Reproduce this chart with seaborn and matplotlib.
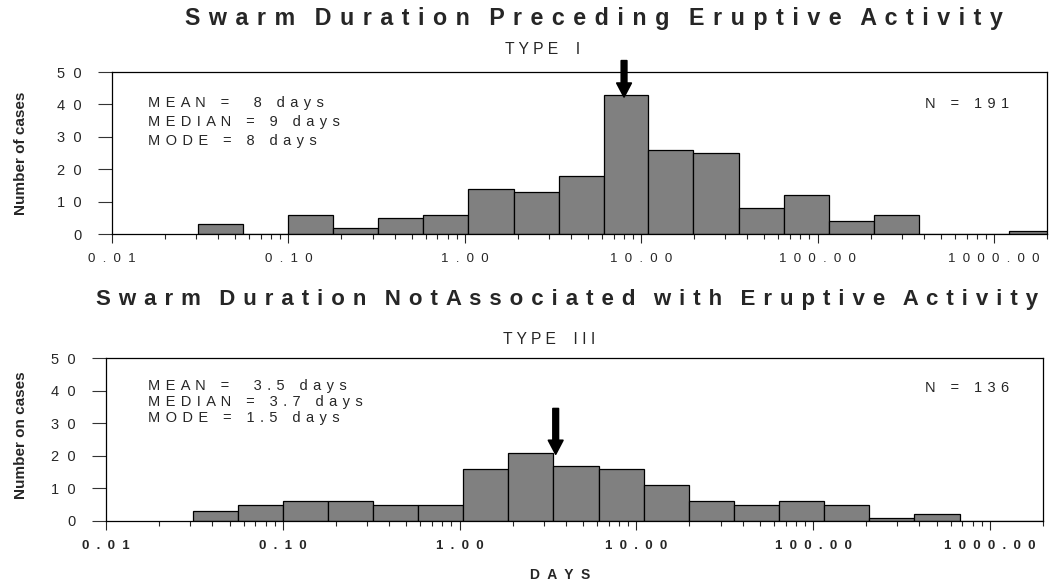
import numpy as np
import pandas as pd
import matplotlib
matplotlib.use("Agg")
import matplotlib.pyplot as plt
import seaborn as sns
from matplotlib.ticker import FixedLocator, FixedFormatter, LogLocator, NullFormatter

# ---------------- data ----------------
bin_edges = [0.0309, 0.0556, 0.1, 0.18, 0.324, 0.583, 1.05, 1.89, 3.40, 6.12,
             11.0, 19.8, 35.7, 64.3, 116.0, 208.0, 375.0, 675.0, 1215.0, 2187.0]
counts_type1 = [3, 0, 6, 2, 5, 6, 14, 13, 18, 43, 26, 25, 8, 12, 4, 6, 0, 0, 1]
counts_type3 = [3, 5, 6, 6, 5, 5, 16, 21, 17, 16, 11, 6, 5, 6, 5, 1, 2, 0, 0]

x_tick_values = [0.01, 0.1, 1, 10, 100, 1000]
x_tick_labels = ["0.01", "0.10", "1.00", "10.00", "100.00", "1000.00"]
y_tick_values = [0, 10, 20, 30, 40, 50]
y_tick_labels = ["0", "10", "20", "30", "40", "50"]

title_type1 = "Swarm Duration Preceding Eruptive Activity"
title_type3 = "Swarm Duration Not Associated with Eruptive Activity"
subtitle_type1 = "TYPE I"
subtitle_type3 = "TYPE III"
stats_type1 = ["MEAN =  8 days", "MEDIAN = 9 days", "MODE = 8 days"]
stats_type3 = ["MEAN =  3.5 days", "MEDIAN = 3.7 days", "MODE = 1.5 days"]
n_type1 = "N = 191"
n_type3 = "N = 136"
ylabel_type1 = "Number of cases"
ylabel_type3 = "Number on cases"
xlabel = "DAYS"

arrow_x = [8, 3.5]
arrow_tip = [42.3, 20.5]
arrow_tail = [53.5, 34.5]

# ---------------- style ----------------
sns.set_style("ticks")
plt.rcParams["font.family"] = ["Liberation Sans", "DejaVu Sans"]
plt.rcParams["axes.edgecolor"] = "black"
plt.rcParams["axes.linewidth"] = 0.9

W, H = 1049, 588
fig = plt.figure(figsize=(W / 100, H / 100), dpi=100)
fig.patch.set_facecolor("white")
renderer = fig.canvas.get_renderer()


def fx(x):
    return x / W


def fy(y):
    return 1 - y / H


def spaced(s, sep=" "):
    return sep.join(s)


def spaced_words(s, sep=" \u200a", word_sep="   ", tight=()):
    words = s.split(" ")
    out = sep.join(words[0])
    for i, w in enumerate(words[1:]):
        out += (sep if i + 1 in tight else word_sep) + sep.join(w)
    return out


def fitted_text(x_left, x_right, y, s, size, **kw):
    t = fig.text(fx(x_left), fy(y), s, ha="left", va="center", fontsize=size, **kw)
    w = t.get_window_extent(renderer).width
    t.set_fontsize(size * (x_right - x_left) / w)
    return t


ax1 = fig.add_axes([fx(112), fy(234), fx(1047 - 112), (234 - 72) / H])
ax2 = fig.add_axes([fx(106), fy(521), fx(1043 - 106), (521 - 358) / H])

edges = np.array(bin_edges)
centers = np.sqrt(edges[:-1] * edges[1:])
log_bins = list(np.log10(edges))

for ax, counts, bold in [(ax1, counts_type1, False), (ax2, counts_type3, True)]:
    df = pd.DataFrame({"days": centers, "cases": counts})
    sns.histplot(data=df, x="days", weights="cases", bins=log_bins,
                 log_scale=True, ax=ax, color="#808080", edgecolor="black",
                 linewidth=0.9, alpha=1.0)
    ax.set_xlim(0.01, 2000)
    ax.set_ylim(0, 50)
    ax.set_xlabel("")
    ax.set_ylabel("")
    ax.xaxis.set_major_locator(FixedLocator(x_tick_values))
    ax.xaxis.set_major_formatter(FixedFormatter([spaced(l, "  ") for l in x_tick_labels]))
    ax.xaxis.set_minor_locator(LogLocator(base=10, subs=np.arange(2, 10), numticks=30))
    ax.xaxis.set_minor_formatter(NullFormatter())
    ax.yaxis.set_major_locator(FixedLocator(y_tick_values))
    ax.yaxis.set_major_formatter(FixedFormatter([spaced(l, "  ") for l in y_tick_labels]))
    ax.tick_params(axis="y", length=10, width=0.8, pad=12, labelsize=10.5, color="#333333")
    ax.tick_params(axis="x", which="major", length=6.5, width=0.8, pad=7, labelsize=9.5)
    ax.tick_params(axis="x", which="minor", length=3.5, width=0.8)
    for sp in ax.spines.values():
        sp.set_visible(True)
        sp.set_color("black")
        sp.set_linewidth(0.9)
    if bold:
        for lab in ax.get_xticklabels():
            lab.set_fontweight("bold")

# arrows marking the mean
for ax, xa, tip, tail in [(ax1, arrow_x[0], arrow_tip[0], arrow_tail[0]),
                          (ax2, arrow_x[1], arrow_tip[1], arrow_tail[1])]:
    ax.annotate("", xy=(xa, tip), xytext=(xa, tail), annotation_clip=False,
                arrowprops=dict(arrowstyle="simple,head_length=1.0,head_width=1.05,tail_width=0.4",
                                mutation_scale=10, fc="black", ec="black", lw=1.2,
                                joinstyle="round", shrinkA=0, shrinkB=0))

# titles (letter-spaced, fitted to the reference extents)
fitted_text(185, 996, 18, spaced_words(title_type1), 16.5, fontweight="bold")
fitted_text(96, 1039, 300, spaced_words(title_type3, tight=(3,)), 16, fontweight="bold")
fitted_text(505, 580, 50, spaced_words(subtitle_type1, sep=" ", word_sep="    "), 10)
fitted_text(503, 595, 340, spaced_words(subtitle_type3, sep=" ", word_sep="    "), 10)
fig.text(fx(560), fy(575), spaced(xlabel, "  "), ha="center", va="center",
         fontsize=10, fontweight="bold")

# y labels
fig.text(fx(21), fy(153), ylabel_type1, rotation=90, ha="center", va="center",
         fontsize=11, fontweight="bold")
fig.text(fx(21), fy(435), ylabel_type3, rotation=90, ha="center", va="center",
         fontsize=11, fontweight="bold")

# statistics
sep = " \u200a"
for i, line in enumerate(stats_type1):
    fig.text(fx(148), fy(103 + 19 * i), spaced(line, sep), ha="left", va="center", fontsize=10.5)
for i, line in enumerate(stats_type3):
    fig.text(fx(148), fy(386 + 16 * i), spaced(line, sep), ha="left", va="center", fontsize=10.5)
fig.text(fx(925), fy(104), spaced(n_type1, sep), ha="left", va="center", fontsize=10.5)
fig.text(fx(925), fy(388), spaced(n_type3, sep), ha="left", va="center", fontsize=10.5)

fig.savefig("out.png", dpi=100, facecolor="white")
